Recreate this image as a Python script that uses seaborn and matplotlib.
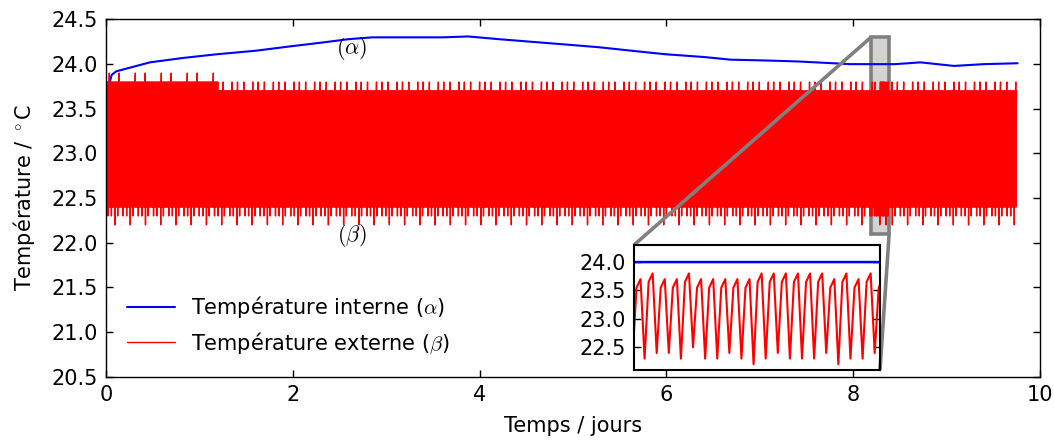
import numpy as np
import matplotlib
matplotlib.use("Agg")
import matplotlib.pyplot as plt
import seaborn as sns
from mpl_toolkits.axes_grid1.inset_locator import mark_inset

# internal temperature (alpha), read at a few days along the curve
t_int = [0, 0.025, 0.06, 0.11, 0.29, 0.47, 0.83, 1.18, 1.6, 1.98, 2.3, 2.6,
         2.85, 3.2, 3.6, 3.88, 4.2, 4.56, 4.92, 5.27, 5.81, 6.0, 6.4, 6.69,
         7.1, 7.41, 7.97, 8.45, 8.72, 9.08, 9.4, 9.76]
v_int = [22.32, 23.73, 23.88, 23.92, 23.97, 24.02, 24.07, 24.11, 24.15, 24.20,
         24.24, 24.28, 24.30, 24.30, 24.30, 24.31, 24.28, 24.25, 24.22, 24.19,
         24.13, 24.11, 24.08, 24.05, 24.04, 24.03, 24.00, 24.00, 24.02, 23.98,
         24.00, 24.01]

# external temperature (beta): cycle peaks / troughs
period = 0.0096        # days per cycle (from the zoomed panel)
t_end = 9.76
early_end = 1.2
early_peaks = [23.8, 23.8, 23.8, 23.9, 23.8, 23.8, 23.8, 23.8, 23.8, 23.8,
               23.8, 23.8, 23.8, 23.8, 23.9, 23.8, 23.8, 23.8, 23.8, 23.8,
               23.8, 23.8, 23.8, 23.8, 23.8, 23.8, 23.8, 23.8, 23.8]
late_peaks = [23.7, 23.7, 23.8, 23.7, 23.7, 23.7, 23.7, 23.7, 23.8, 23.7,
              23.7, 23.7, 23.7, 23.7, 23.7, 23.8, 23.7, 23.7, 23.7, 23.7,
              23.7, 23.7, 23.7]
main_troughs = [22.4, 22.4, 22.3, 22.4, 22.4, 22.4, 22.3, 22.4, 22.4, 22.4,
                22.2, 22.4, 22.4, 22.3, 22.4, 22.4, 22.4]

# the zoomed window
inset_x = (8.19, 8.385)
inset_y = (22.1, 24.3)
inset_peaks = [23.7, 23.8, 23.7, 23.7, 23.8, 23.7, 23.7, 23.7, 23.7, 23.7,
               23.8, 23.8, 23.8, 23.8, 23.8, 23.8, 23.7, 23.8, 23.7, 23.8, 23.7]
inset_troughs = [22.3, 22.3, 22.4, 22.4, 22.3, 22.5, 22.3, 22.3, 22.4, 22.3,
                 22.2, 22.3, 22.4, 22.3, 22.3, 22.3, 22.4, 22.2, 22.3, 22.3, 22.4]
shoulder_drop = 0.15

# build the beta series cycle by cycle (trough, shoulder, peak)
n_cyc = int(t_end / period)
k_in = round(inset_x[0] / period)
t_ext, v_ext = [], []
for k in range(n_cyc):
    j = k - k_in
    if 0 <= j < len(inset_peaks):
        tr, pk = inset_troughs[j], inset_peaks[j]
    else:
        pks = early_peaks if k * period < early_end else late_peaks
        pk = pks[k % len(pks)]
        tr = main_troughs[k % len(main_troughs)]
    t_ext += [k * period, (k + 1 / 3) * period, (k + 2 / 3) * period]
    v_ext += [tr, pk - shoulder_drop, pk]

sns.set_style("ticks")
plt.rcParams['font.family'] = ['DejaVu Sans']
plt.rcParams['mathtext.fontset'] = 'cm'
for key in ['text.color', 'axes.labelcolor', 'xtick.color', 'ytick.color',
            'axes.edgecolor']:
    plt.rcParams[key] = 'black'

fig = plt.figure(figsize=(10.54, 4.41), dpi=100)
ax = fig.add_axes([0.1006, 0.1458, 0.8861, 0.81])

sns.lineplot(x=t_int, y=v_int, color='blue', lw=1.5, ax=ax, estimator=None,
             label=r'Température interne ($\alpha$)')
sns.lineplot(x=t_ext, y=v_ext, color='red', lw=1, ax=ax, estimator=None,
             label=r'Température externe ($\beta$)')

ax.set_xlim(0, 10)
ax.set_ylim(20.5, 24.5)
ax.set_xticks([0, 2, 4, 6, 8, 10])
ax.set_yticks(np.arange(20.5, 24.51, 0.5))
ax.set_yticklabels([f"{v:.1f}" for v in np.arange(20.5, 24.51, 0.5)])
ax.tick_params(direction='in', top=True, right=True, length=5, width=1,
               labelsize=15, pad=6)
for s in ax.spines.values():
    s.set_linewidth(1.0)
ax.set_xlabel('Temps / jours', fontsize=15, labelpad=8)
ax.set_ylabel(r'Température / $^\circ$C', fontsize=15, labelpad=10)

ax.text(2.63, 24.18, r'$(\alpha)$', fontsize=16, ha='center', va='center')
ax.text(2.63, 22.08, r'$(\beta)$', fontsize=16, ha='center', va='center')

ax.legend(loc='lower left', frameon=False, fontsize=15, handlelength=2.3,
          borderaxespad=0.6, labelspacing=0.5)

# zoomed inset
axins = fig.add_axes([0.6015, 0.161, 0.2334, 0.2834])
sns.lineplot(x=t_int, y=v_int, color='blue', lw=1.8, ax=axins, estimator=None)
sns.lineplot(x=t_ext, y=v_ext, color='red', lw=1.5, ax=axins, estimator=None)
axins.set_xlim(*inset_x)
axins.set_ylim(*inset_y)
axins.set_xticks([])
axins.set_yticks([22.5, 23.0, 23.5, 24.0])
axins.set_yticklabels(['22.5', '23.0', '23.5', '24.0'])
axins.tick_params(direction='in', right=True, length=5, width=1,
                  labelsize=15, pad=6)
axins.set_xlabel('')
axins.set_ylabel('')
for s in axins.spines.values():
    s.set_linewidth(1.5)

pp, p1, p2 = mark_inset(ax, axins, loc1=2, loc2=4, fc='lightgray', ec='0.5', lw=2.6)

fig.savefig('out.png', dpi=100)
